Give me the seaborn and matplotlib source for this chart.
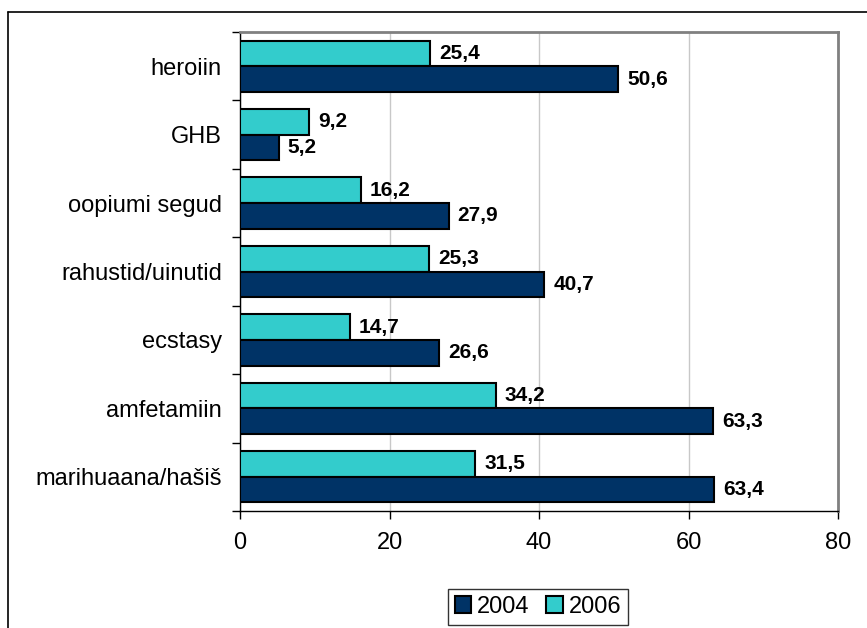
import numpy as np
import pandas as pd
import matplotlib
matplotlib.use('Agg')
import matplotlib.pyplot as plt
from matplotlib.patches import Patch
from matplotlib.lines import Line2D
import seaborn as sns

# data
categories = ["heroiin", "GHB", "oopiumi segud", "rahustid/uinutid",
              "ecstasy", "amfetamiin", "marihuaana/hašiš"]
values_2004 = [50.6, 5.2, 27.9, 40.7, 26.6, 63.3, 63.4]
values_2006 = [25.4, 9.2, 16.2, 25.3, 14.7, 34.2, 31.5]

df = pd.DataFrame({
    "drug": categories * 2,
    "year": ["2006"] * len(categories) + ["2004"] * len(categories),
    "value": values_2006 + values_2004,
})

colors = {"2004": "#003366", "2006": "#33CCCC"}

sns.set_style("white")
plt.rcParams['font.family'] = ['Liberation Sans', 'DejaVu Sans']
plt.rcParams['text.color'] = 'black'
plt.rcParams['xtick.color'] = 'black'
plt.rcParams['ytick.color'] = 'black'

fig = plt.figure(figsize=(8.67, 6.28), dpi=100)
ax = fig.add_axes([240 / 867, 1 - 511 / 628, 598 / 867, 479 / 628])

sns.barplot(data=df, x="value", y="drug", hue="year", order=categories,
            hue_order=["2006", "2004"], palette=colors, orient="h",
            width=0.75, saturation=1, edgecolor="black", linewidth=1.5,
            ax=ax, legend=False, zorder=3)

# value labels
for cont in ax.containers:
    labels = [f"{v:.1f}".replace(".", ",") for v in cont.datavalues]
    ax.bar_label(cont, labels=labels, padding=6.5, fontsize=15,
                 fontweight="bold", color="black")

ax.set_xlim(0, 80)
ax.set_xticks([0, 20, 40, 60, 80])
ax.set_xlabel("")
ax.set_ylabel("")
ax.grid(axis="x", color="#c8c8c8", linewidth=1, zorder=0)
ax.set_axisbelow(True)

ax.set_yticks(range(len(categories)))
ax.set_yticklabels(categories)
ax.set_yticks(np.arange(-0.5, len(categories), 1), minor=True)
ax.tick_params(axis="y", which="major", length=0, labelsize=17, pad=13)
ax.tick_params(axis="y", which="minor", length=6, width=1, direction="out",
               color="black", left=True)
ax.tick_params(axis="x", which="major", length=6, width=1, direction="out",
               color="black", bottom=True, labelsize=17, pad=9)
ax.set_ylim(len(categories) - 0.5, -0.5)

for s in ["left", "bottom"]:
    ax.spines[s].set_color("black")
    ax.spines[s].set_linewidth(1)
for s in ["top", "right"]:
    ax.spines[s].set_color("#808080")
    ax.spines[s].set_linewidth(2)

# outer chart frame (only top and left visible in the crop)
fig.add_artist(Line2D([8 / 867, 8 / 867], [0, 1 - 12 / 628],
                      color="black", linewidth=1.2, transform=fig.transFigure))
fig.add_artist(Line2D([8 / 867, 1], [1 - 12 / 628, 1 - 12 / 628],
                      color="black", linewidth=1.2, transform=fig.transFigure))

handles = [Patch(facecolor=colors["2004"], edgecolor="black", linewidth=1.5, label="2004"),
           Patch(facecolor=colors["2006"], edgecolor="black", linewidth=1.5, label="2006")]
leg = fig.legend(handles=handles, loc="center", bbox_to_anchor=(538 / 867, 1 - 607 / 628),
                 ncol=2, frameon=True, fancybox=False, edgecolor="black",
                 fontsize=17, handlelength=0.7, handleheight=0.7, handletextpad=0.25,
                 columnspacing=0.7, borderpad=0.3, borderaxespad=0)
leg.get_frame().set_linewidth(1)

fig.savefig("out.png", dpi=100)
